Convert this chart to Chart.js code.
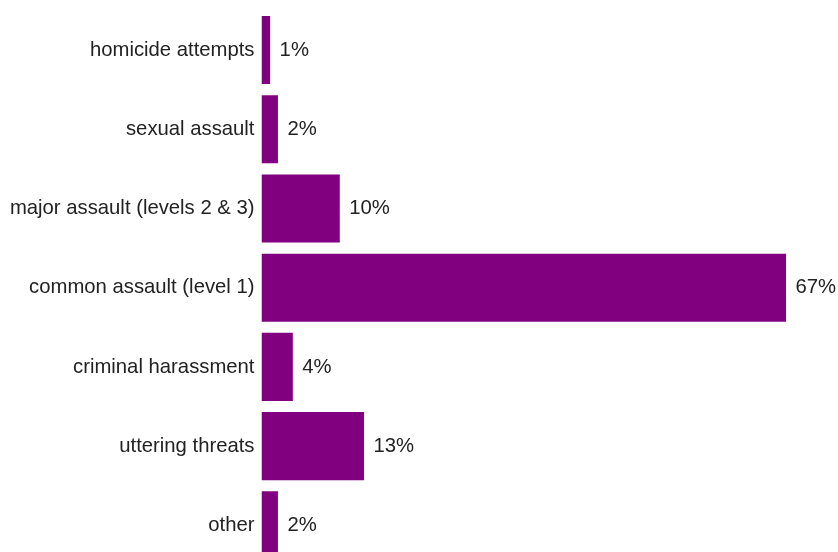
<!DOCTYPE html>
<html><head><meta charset="utf-8">
<script src="https://cdn.jsdelivr.net/npm/chart.js@4/dist/chart.umd.min.js"></script>
<style>
html,body{margin:0;padding:0;background:#fff;overflow:hidden;width:838px;height:552px}
canvas{display:block}
</style></head>
<body><canvas id="c" width="838" height="565" style="width:838px;height:565px"></canvas>
<script>
const categories = ["homicide attempts","sexual assault","major assault (levels 2 & 3)","common assault (level 1)","criminal harassment","uttering threats","other"];
const values = [1.1, 2.1, 10.0, 67.0, 4.0, 13.1, 2.1];
const valueLabels = ["1%","2%","10%","67%","4%","13%","2%"];

const FONT = '"Liberation Sans", Arial, sans-serif';
const labelPlugin = {
  id: 'valLabels',
  afterDatasetsDraw(chart) {
    const ctx = chart.ctx;
    const meta = chart.getDatasetMeta(0);
    ctx.save();
    ctx.font = '20.3px ' + FONT;
    ctx.fillStyle = '#222';
    ctx.textAlign = 'left';
    ctx.textBaseline = 'middle';
    meta.data.forEach((bar, i) => {
      ctx.fillText(valueLabels[i], bar.x + 9.5, bar.y);
    });
    ctx.restore();
  }
};

new Chart(document.getElementById('c'), {
  type: 'bar',
  data: { labels: categories, datasets: [{ data: values, backgroundColor: '#800080', borderWidth: 0, categoryPercentage: 1, barPercentage: 0.86 }] },
  options: {
    indexAxis: 'y',
    responsive: false,
    maintainAspectRatio: false,
    animation: false,
    devicePixelRatio: 1,
    layout: { padding: { top: 10.4, right: 52, bottom: 0, left: 0 } },
    plugins: { legend: { display: false }, tooltip: { enabled: false } },
    scales: {
      x: { display: false, min: 0, max: 67 },
      y: {
        grid: { display: false, drawTicks: false },
        border: { display: false },
        ticks: { color: '#222', font: { family: FONT, size: 20.3 }, padding: 7 },
        afterFit(scale) { scale.width = 261.5; scale.paddingTop = 0; scale.paddingBottom = 0; }
      }
    }
  },
  plugins: [labelPlugin]
});
</script></body></html>
